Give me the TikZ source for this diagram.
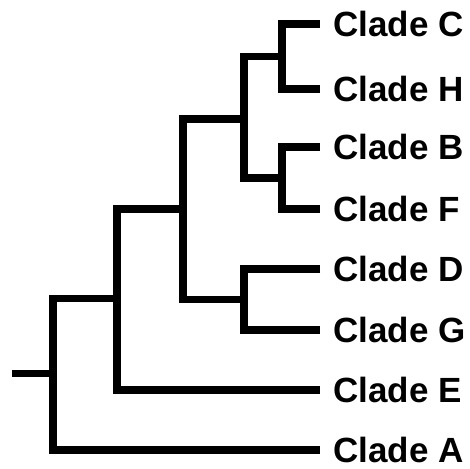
\documentclass[tikz,border=0pt]{standalone}
\usepackage{fontspec}
\setmainfont{Liberation Sans}
\begin{document}
\begin{tikzpicture}[x=1pt,y=-1pt,
  branch/.style={line width=7.5pt,line join=miter,line cap=butt},
  lab/.style={anchor=base west,inner sep=0pt,font=\bfseries\fontsize{35}{35}\selectfont}]
\useasboundingbox (0,0) rectangle (470,468);
% tips
\coordinate (tC) at (320,24);
\coordinate (tH) at (320,89);
\coordinate (tB) at (320,147);
\coordinate (tF) at (320,209);
\coordinate (tD) at (320,269);
\coordinate (tG) at (320,330);
\coordinate (tE) at (320,390);
\coordinate (tA) at (320,450);
% internal nodes
\coordinate (nCH) at (282,56.5);
\coordinate (nBF) at (282,178);
\coordinate (nCHBF) at (244,119);
\coordinate (nDG) at (244,299.5);
\coordinate (nX) at (183,209);
\coordinate (nXE) at (117,298.5);
\coordinate (root) at (53,373.5);
\coordinate (stub) at (12,373.5);
% labels
\foreach \n in {C,H,B,F,D,G,E,A}{
  \node[lab] (l\n) at ([xshift=13pt,yshift=-12.5pt]t\n) {Clade \n};
}
% branches
\draw[branch] (tC) -| (nCH) |- (tH);
\draw[branch] (tB) -| (nBF) |- (tF);
\draw[branch] (nCH) -| (nCHBF) |- (nBF);
\draw[branch] (tD) -| (nDG) |- (tG);
\draw[branch] (nCHBF) -| (nX) |- (nDG);
\draw[branch] (nX) -| (nXE) |- (tE);
\draw[branch] (nXE) -| (root) |- (tA);
\draw[branch] (stub) -- (root);
\end{tikzpicture}
\end{document}
